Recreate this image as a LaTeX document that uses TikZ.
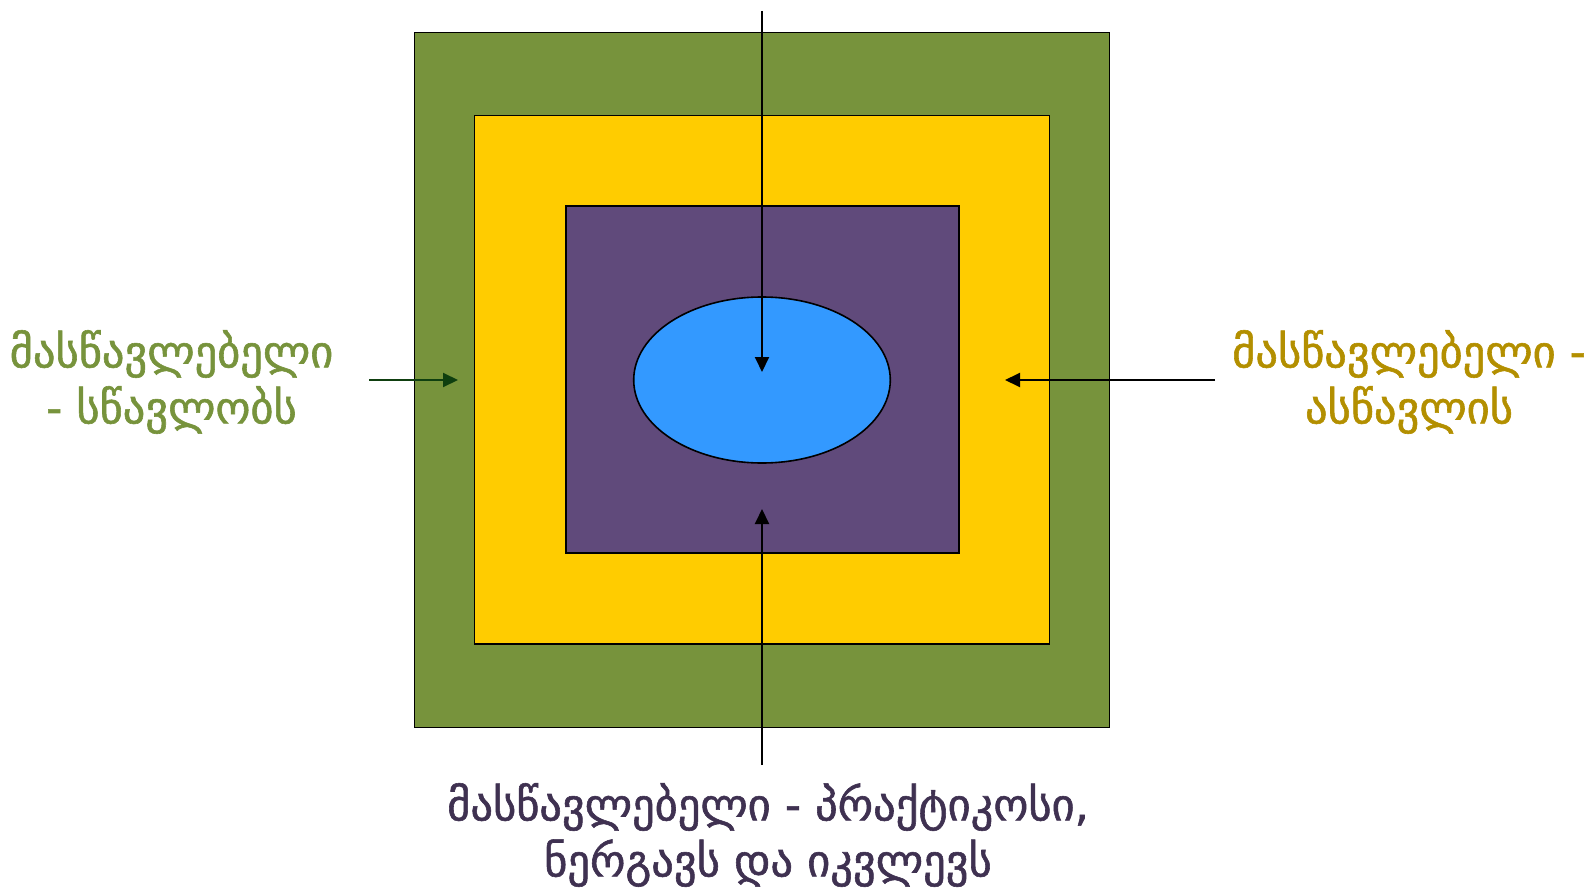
\documentclass[tikz,border=0pt]{standalone}
\usepackage{fontspec}
\newfontfamily\geofont[FakeBold=1.3]{DejaVu Sans}
\usetikzlibrary{shapes.geometric,arrows.meta}
\definecolor{cgreen}{HTML}{77933C}
\definecolor{cyellow}{HTML}{FFCC00}
\definecolor{cpurple}{HTML}{604A7B}
\definecolor{cblue}{HTML}{3399FF}
\definecolor{cgold}{HTML}{B38F00}
\definecolor{cdpurple}{HTML}{3F3151}
\definecolor{cdgreen}{HTML}{0F3F0F}
\begin{document}
\begin{tikzpicture}[x=1pt,y=-1pt,
  layer/.style={draw=black,line width=1.6pt,rectangle,inner sep=0pt},
  conn/.style={line width=2pt,-{Triangle[length=15pt,width=14pt]}},
  lbl/.style={font=\geofont\fontsize{44.5}{56}\selectfont,align=center,inner sep=0pt}]
\useasboundingbox (0,0) rectangle (1593,888);
\node[layer,fill=cgreen,minimum width=695pt,minimum height=695pt] (green) at (762,380) {};
\node[layer,fill=cyellow,minimum width=575pt,minimum height=528.5pt] (yellow) at (762,379.75) {};
\node[layer,fill=cpurple,minimum width=393pt,minimum height=347pt] (purple) at (762.5,379.5) {};
\node[ellipse,draw=black,line width=1.6pt,fill=cblue,minimum width=256.6pt,minimum height=166pt,inner sep=0pt] (core) at (762,380) {};
\coordinate (topstart) at (762,11);
\coordinate (toptip) at (762,372);
\coordinate (botstart) at (762,765);
\coordinate (bottip) at (762,509);
\coordinate (lstart) at (369,380);
\coordinate (ltip) at (458,380);
\coordinate (rstart) at (1215,380);
\coordinate (rtip) at (1005,380);
\draw[conn] (topstart) -- (toptip);
\draw[conn] (botstart) -- (bottip);
\draw[conn,draw=cdgreen,fill=cdgreen] (lstart) -- (ltip);
\draw[conn] (rstart) -- (rtip);
\node[lbl,text=cgreen] (ltext) at (171.5,382) {მასწავლებელი\\- სწავლობს};
\node[lbl,text=cgold] (rtext) at (1409,382) {მასწავლებელი -\\ასწავლის};
\node[lbl,text=cdpurple] (btext) at (768,835) {მასწავლებელი - პრაქტიკოსი,\\ნერგავს და იკვლევს};
\end{tikzpicture}
\end{document}
